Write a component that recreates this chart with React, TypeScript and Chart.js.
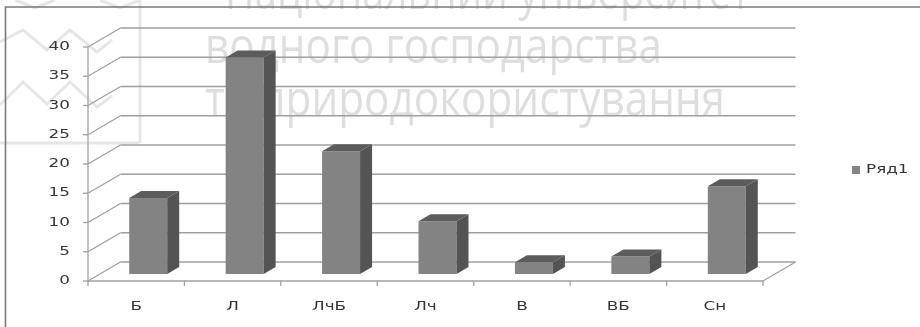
import { useEffect, useRef } from "react";
import { Chart, registerables } from "chart.js";

Chart.register(...registerables);

// Chart data
const categories = ["Б", "Л", "ЛчБ", "Лч", "В", "ВБ", "Сн"];
const values = [13, 37, 21, 9, 2, 3, 15];
const seriesName = "Ряд1";
const yMin = 0;
const yMax = 40;
const yStep = 5;

// Background caption lines
const captionLines = [
  "Національний університет",
  "водного господарства",
  "та природокористування",
];

// Layout of the pseudo-3D box (offsets from the bar plane)
const FRONT = { dx: -12, dy: 7 };
const BACK = { dx: 20.5, dy: -12 };
const BAR_DEPTH = { dx: 12, dy: -7 };
const TEXT_STRETCH = 1.4;
const LABEL_FONT = '12px "DejaVu Sans"';
const TEXT_COLOR = "#353535";
const GRID_COLOR = "#a0a0a0";
const FACE_FRONT = "#838383";
const FACE_SIDE = "#545454";
const FACE_TOP = "#5c5c5c";

// Caption placement: left x, baseline y, fitted width
const captionBoxes = [
  { x: 225, y: 9, w: 525 },
  { x: 205, y: 63, w: 457 },
  { x: 205, y: 116, w: 520 },
];

function stretchedText(
  ctx: CanvasRenderingContext2D,
  text: string,
  x: number,
  y: number,
  align: CanvasTextAlign,
  sx: number
) {
  ctx.save();
  ctx.translate(x, y);
  ctx.scale(sx, 1);
  ctx.textAlign = align;
  ctx.fillText(text, 0, 0);
  ctx.restore();
}

function line(ctx: CanvasRenderingContext2D, x1: number, y1: number, x2: number, y2: number) {
  ctx.beginPath();
  ctx.moveTo(x1, y1);
  ctx.lineTo(x2, y2);
  ctx.stroke();
}

function polyline(ctx: CanvasRenderingContext2D, pts: number[][]) {
  ctx.beginPath();
  pts.forEach(([x, y], i) => (i === 0 ? ctx.moveTo(x, y) : ctx.lineTo(x, y)));
  ctx.stroke();
}

const backdropPlugin = {
  id: "backdrop",
  beforeDraw(chart: Chart) {
    const ctx = chart.ctx;
    ctx.save();
    ctx.fillStyle = "#ffffff";
    ctx.fillRect(0, 0, chart.width, chart.height);

    // faint emblem in the corner
    ctx.strokeStyle = "#e6e6e6";
    ctx.lineWidth = 3;
    polyline(ctx, [[0, 42], [23, 30], [47, 50], [70, 30], [97, 52], [112, 40]]);
    polyline(ctx, [[0, 105], [23, 82], [47, 104], [70, 82], [97, 107], [112, 96]]);
    polyline(ctx, [[15, 0], [35, 8], [55, 0]]);
    polyline(ctx, [[100, 0], [120, 8], [140, 0]]);
    line(ctx, 140, 0, 140, 143);
    line(ctx, 0, 143, 140, 143);

    // caption text
    ctx.fillStyle = "#dedede";
    ctx.font = '50px "Open Sans"';
    ctx.textBaseline = "alphabetic";
    captionLines.forEach((t, i) => {
      const b = captionBoxes[i];
      const w = ctx.measureText(t).width;
      stretchedText(ctx, t, b.x, b.y, "left", b.w / w);
    });

    // outer frame
    ctx.strokeStyle = "#7a7a7a";
    ctx.lineWidth = 1.6;
    polyline(ctx, [[5.5, chart.height + 2], [5.5, 7], [chart.width + 2, 7]]);
    ctx.restore();
  },
  beforeDatasetsDraw(chart: Chart) {
    const ctx = chart.ctx;
    const xs = chart.scales.x;
    const ys = chart.scales.y;
    const left = xs.left;
    const right = xs.right;
    ctx.save();
    ctx.strokeStyle = GRID_COLOR;
    ctx.lineWidth = 1.3;

    for (let v = yMin; v <= yMax; v += yStep) {
      const y = ys.getPixelForValue(v);
      // back wall
      line(ctx, left + BACK.dx, y + BACK.dy, right + BACK.dx, y + BACK.dy);
      // side wall
      line(ctx, left + FRONT.dx, y + FRONT.dy, left + BACK.dx, y + BACK.dy);
      // tick mark
      line(ctx, left + FRONT.dx - 5, y + FRONT.dy, left + FRONT.dx, y + FRONT.dy);
    }

    const y0 = ys.getPixelForValue(yMin);
    const yTop = ys.getPixelForValue(yMax);
    // front vertical axis
    line(ctx, left + FRONT.dx, yTop + FRONT.dy, left + FRONT.dx, y0 + FRONT.dy);
    // floor front edge and right edge
    line(ctx, left + FRONT.dx, y0 + FRONT.dy, right + FRONT.dx, y0 + FRONT.dy);
    line(ctx, right + FRONT.dx, y0 + FRONT.dy, right + BACK.dx, y0 + BACK.dy);
    // category tick marks
    const n = categories.length;
    const step = (right - left) / n;
    for (let i = 0; i <= n; i++) {
      const x = left + i * step + FRONT.dx;
      line(ctx, x, y0 + FRONT.dy, x, y0 + FRONT.dy + 5);
    }

    // axis labels
    ctx.fillStyle = TEXT_COLOR;
    ctx.font = LABEL_FONT;
    ctx.textBaseline = "middle";
    for (let v = yMin; v <= yMax; v += yStep) {
      const y = ys.getPixelForValue(v) + FRONT.dy;
      stretchedText(ctx, String(v), left + FRONT.dx - 18, y, "right", TEXT_STRETCH);
    }
    categories.forEach((c, i) => {
      const x = xs.getPixelForValue(i) + FRONT.dx;
      stretchedText(ctx, c, x, 307, "center", TEXT_STRETCH);
    });

    // legend
    const lx = right + 77;
    const ly = 170;
    ctx.fillStyle = FACE_FRONT;
    ctx.fillRect(lx, ly - 4, 8, 8);
    ctx.fillStyle = TEXT_COLOR;
    stretchedText(ctx, seriesName, lx + 14, ly, "left", TEXT_STRETCH);
    ctx.restore();
  },
  afterDatasetsDraw(chart: Chart) {
    const ctx = chart.ctx;
    const meta = chart.getDatasetMeta(0);
    ctx.save();
    meta.data.forEach((el: any) => {
      const { x, y, base, width } = el.getProps(["x", "y", "base", "width"], true);
      const x0 = x - width / 2;
      const x1 = x + width / 2;
      // right side face
      ctx.fillStyle = FACE_SIDE;
      ctx.beginPath();
      ctx.moveTo(x1, y);
      ctx.lineTo(x1 + BAR_DEPTH.dx, y + BAR_DEPTH.dy);
      ctx.lineTo(x1 + BAR_DEPTH.dx, base + BAR_DEPTH.dy);
      ctx.lineTo(x1, base);
      ctx.closePath();
      ctx.fill();
      // top face
      ctx.fillStyle = FACE_TOP;
      ctx.beginPath();
      ctx.moveTo(x0, y);
      ctx.lineTo(x0 + BAR_DEPTH.dx, y + BAR_DEPTH.dy);
      ctx.lineTo(x1 + BAR_DEPTH.dx, y + BAR_DEPTH.dy);
      ctx.lineTo(x1, y);
      ctx.closePath();
      ctx.fill();
    });
    ctx.restore();
  },
};

export default function App() {
  const canvasRef = useRef<HTMLCanvasElement | null>(null);

  useEffect(() => {
    const canvas = canvasRef.current;
    if (!canvas) return;
    const chart = new Chart(canvas, {
      type: "bar",
      data: {
        labels: categories,
        datasets: [
          {
            label: seriesName,
            data: values,
            backgroundColor: FACE_FRONT,
            borderWidth: 0,
            barPercentage: 0.394,
            categoryPercentage: 1,
          },
        ],
      },
      options: {
        responsive: false,
        animation: false,
        layout: { padding: { left: 100, right: 145, top: 40, bottom: 53 } },
        plugins: {
          legend: { display: false },
          tooltip: { enabled: false },
        },
        scales: {
          x: { display: false, offset: true },
          y: { display: false, min: yMin, max: yMax, ticks: { stepSize: yStep } },
        },
      },
      plugins: [backdropPlugin],
    });
    return () => chart.destroy();
  }, []);

  return (
    <div style={{ position: "fixed", left: 0, top: 0, width: 920, height: 327, background: "#fff" }}>
      <canvas ref={canvasRef} width={920} height={327} style={{ display: "block" }} />
    </div>
  );
}
